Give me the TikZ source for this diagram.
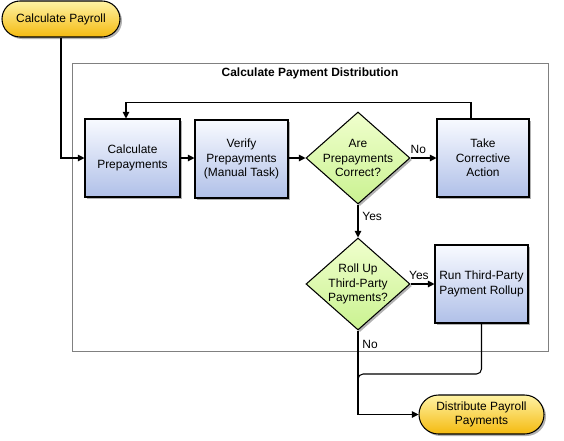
\documentclass[tikz,border=0pt]{standalone}
\usepackage{fontspec}
\setmainfont{Liberation Sans}
\usetikzlibrary{arrows.meta,shapes.geometric,shadows}
\definecolor{boxtop}{RGB}{248,250,255}
\definecolor{boxbot}{RGB}{176,192,232}
\definecolor{pilltop}{RGB}{255,243,165}
\definecolor{pillbot}{RGB}{244,186,15}
\definecolor{diatop}{RGB}{240,255,205}
\definecolor{diabot}{RGB}{202,242,145}
\definecolor{frame}{RGB}{128,128,128}
\tikzset{
  every node/.style={font=\fontsize{10.2}{12.2}\selectfont, align=center},
  shad/.style={drop shadow={shadow xshift=0.06cm, shadow yshift=-0.06cm, opacity=0.3, fill=black}},
  procbox/.style={draw=black, line width=0.9pt, top color=boxtop, bottom color=boxbot, shad, inner sep=0pt, minimum height=2.34cm},
  pill/.style={draw=black, line width=0.9pt, top color=pilltop, bottom color=pillbot, shad, inner sep=0pt},
  dia/.style={diamond, draw=black, line width=0.9pt, top color=diatop, bottom color=diabot, shad, inner sep=0pt, minimum width=3.12cm, minimum height=2.76cm},
  arr/.style={draw=black, line width=0.9pt, -{Triangle[length=0.2cm,width=0.2cm]}},
  ln/.style={draw=black, line width=0.9pt},
  lbl/.style={font=\fontsize{10.2}{12}\selectfont}
}
\begin{document}
\begin{tikzpicture}[x=0.03cm, y=-0.03cm]
\useasboundingbox (0,0) rectangle (564,440);
% container
\node[draw=frame, line width=0.7pt, minimum width=14.28cm, minimum height=8.64cm, inner sep=0pt] (frm) at (310,207) {};
\node[font=\bfseries\fontsize{10.2}{12}\selectfont] (title) at (310,73) {Calculate Payment Distribution};
% nodes
\node[pill, minimum width=3.54cm, minimum height=1.08cm, rounded corners=0.54cm] (p1) at (61,19) {Calculate Payroll};
\node[procbox, minimum width=2.85cm] (cp) at (132.5,158) {Calculate\\Prepayments};
\node[procbox, minimum width=2.79cm] (vp) at (241.5,159) {Verify\\Prepayments\\(Manual Task)};
\node[dia, label={[align=center]center:Are\\Prepayments\\Correct?}] (d1) at (358,158) {};
\node[procbox, minimum width=2.76cm] (tk) at (483,158) {Take\\Corrective\\Action};
\node[dia, label={[align=center]center:Roll Up\\Third-Party\\Payments?}] (d2) at (358,284) {};
\node[procbox, minimum width=2.79cm] (run) at (481.5,284) {Run Third-Party\\Payment Rollup};
\node[pill, minimum width=3.75cm, minimum height=1.17cm, rounded corners=0.585cm] (p2) at (481.5,414.5) {Distribute Payroll\\Payments};
% connectors
\draw[arr] (p1.south) |- (cp.west);
\draw[arr] (cp.east) -- (vp.west |- cp.east);
\draw[arr] (vp.east |- d1.west) -- (d1.west);
\draw[arr] (d1.east) -- node[lbl, above, pos=0.3] (no1) {No} (tk.west);
\draw[arr] ([xshift=-0.36cm]tk.north) -- ++(0,-16) -| ([xshift=-0.195cm]cp.north);
\draw[arr] (d1.south) -- node[lbl, right, pos=0.35] (yes1) {Yes} (d2.north);
\draw[arr] (d2.east) -- node[lbl, above, pos=0.35] (yes2) {Yes} (run.west |- d2.east);
\coordinate (j) at (358,384);
\draw[ln, rounded corners=0.15cm] (run.south) |- (358,374) -- (j);
\draw[arr] (d2.south) |- node[lbl, pos=0.08, right] (no2) {No} (p2.west);
\end{tikzpicture}
\end{document}
